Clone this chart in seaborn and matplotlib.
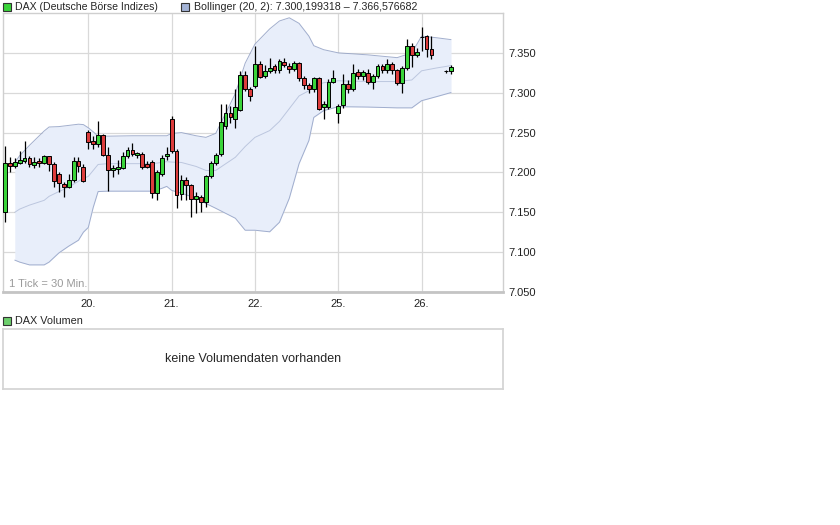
import numpy as np
import pandas as pd
import matplotlib
matplotlib.use("Agg")
import matplotlib.pyplot as plt
from matplotlib.patches import Rectangle
from matplotlib.ticker import FuncFormatter
import seaborn as sns

# 30-min slots, 17 per trading day (19., 20., 21., 22., 25., 26.)
slot = list(range(88)) + [90, 91]

opens = [7150, 7212, 7208, 7212, 7214, 7218, 7209, 7214, 7212, 7220, 7210, 7198, 7186, 7182, 7190, 7214, 7207,
         7251, 7239, 7236, 7247, 7222, 7203, 7204, 7206, 7221, 7228, 7222, 7223, 7211, 7213, 7174, 7198, 7220,
         7267, 7227, 7173, 7190, 7184, 7167, 7169, 7163, 7195, 7212, 7223, 7258, 7275, 7267, 7278, 7322, 7305,
         7308, 7336, 7321, 7327, 7333, 7328, 7339, 7334, 7330, 7337, 7319, 7310, 7305, 7318, 7282, 7282, 7314,
         7275, 7284, 7311, 7305, 7326, 7321, 7325, 7314, 7321, 7334, 7328, 7336, 7328, 7312, 7331, 7359, 7347,
         7370, 7371, 7355, 7327, 7327]
highs = [7233, 7219, 7218, 7227, 7239, 7220, 7219, 7218, 7222, 7221, 7213, 7200, 7188, 7198, 7219, 7219, 7211,
         7253, 7246, 7265, 7248, 7232, 7209, 7215, 7226, 7232, 7237, 7226, 7226, 7214, 7215, 7203, 7222, 7232,
         7271, 7229, 7197, 7194, 7186, 7175, 7172, 7197, 7214, 7224, 7286, 7286, 7283, 7305, 7327, 7327, 7307,
         7359, 7340, 7335, 7343, 7336, 7342, 7343, 7337, 7340, 7339, 7321, 7312, 7320, 7320, 7290, 7317, 7329,
         7286, 7324, 7316, 7336, 7330, 7329, 7330, 7323, 7336, 7336, 7342, 7338, 7330, 7334, 7367, 7362, 7356,
         7383, 7373, 7371, 7329, 7335]
lows = [7138, 7200, 7205, 7210, 7212, 7207, 7205, 7207, 7211, 7202, 7182, 7175, 7169, 7180, 7188, 7200, 7188,
        7229, 7230, 7232, 7220, 7177, 7194, 7198, 7204, 7218, 7221, 7218, 7204, 7205, 7168, 7166, 7196, 7215,
        7224, 7155, 7165, 7165, 7144, 7149, 7150, 7157, 7193, 7209, 7221, 7254, 7262, 7256, 7277, 7302, 7290,
        7306, 7318, 7318, 7325, 7325, 7325, 7332, 7325, 7327, 7315, 7305, 7300, 7301, 7278, 7267, 7280, 7312,
        7262, 7281, 7300, 7302, 7317, 7316, 7311, 7305, 7318, 7325, 7325, 7324, 7310, 7300, 7329, 7332, 7345,
        7352, 7345, 7342, 7325, 7323]
closes = [7212, 7208, 7213, 7215, 7218, 7210, 7213, 7212, 7220, 7211, 7189, 7187, 7182, 7191, 7214, 7208, 7189,
          7238, 7236, 7247, 7222, 7203, 7205, 7207, 7221, 7228, 7223, 7225, 7207, 7207, 7174, 7200, 7218, 7223,
          7227, 7172, 7190, 7184, 7167, 7170, 7163, 7195, 7212, 7222, 7263, 7274, 7270, 7282, 7322, 7305, 7296,
          7336, 7320, 7327, 7331, 7328, 7340, 7335, 7330, 7337, 7319, 7310, 7305, 7318, 7280, 7286, 7314, 7319,
          7283, 7311, 7305, 7325, 7321, 7326, 7314, 7321, 7334, 7328, 7336, 7328, 7312, 7331, 7359, 7347, 7351,
          7370, 7355, 7347, 7327, 7332]

# Bollinger (20, 2) at some slots
bb_slot = [2, 3, 5, 8, 9, 11, 13, 15, 16, 17, 18, 19, 21, 26, 30, 32, 33, 34, 36, 39, 41, 43, 47, 49, 51,
           54, 56, 58, 60, 62, 63, 65, 68, 74, 80, 83, 85, 88, 91]
bb_upper = [7212.5, 7221, 7234, 7252, 7257, 7257.5, 7259, 7260.5, 7260, 7256, 7251, 7245.5, 7245.5, 7246, 7246,
            7246, 7246, 7249, 7250, 7246, 7244, 7249, 7299, 7337, 7361, 7380, 7390, 7394, 7387, 7371, 7359,
            7354, 7350, 7347.5, 7344, 7350, 7371, 7369, 7366.6]
bb_lower = [7090, 7087.5, 7084, 7084, 7087.5, 7099, 7107.5, 7115, 7125, 7131, 7156, 7176, 7176.5, 7176.5, 7176.5,
            7180, 7182.5, 7177.5, 7174, 7167.5, 7161, 7155, 7142.5, 7127.5, 7127.5, 7125.5, 7137.5, 7167.5, 7211,
            7240, 7269, 7277.5, 7282.5, 7282, 7281, 7281, 7290, 7295, 7300.2]
bb_mid = [7150, 7154, 7159, 7165, 7170, 7176, 7181.5, 7189, 7192.5, 7195, 7202.5, 7210, 7211, 7211, 7211,
          7212.5, 7213.5, 7213, 7212.5, 7207.5, 7202.5, 7202.5, 7219, 7232.5, 7244, 7252.5, 7264, 7280, 7296,
          7302.5, 7309, 7312.5, 7315, 7314, 7314, 7316, 7327.5, 7331, 7334]

day_slot = [17, 34, 51, 68, 85]
day_label = ["20.", "21.", "22.", "25.", "26."]

GREEN = "#3ad43a"
RED = "#dc3c3c"
BAND_FILL = "#e8eefa"
BAND_LINE = "#98a6c8"
GRID = "#d9d9d9"

sns.set_theme(style="white")
plt.rcParams["font.family"] = ["Liberation Sans", "DejaVu Sans"]

df = pd.DataFrame({"slot": slot, "open": opens, "high": highs, "low": lows, "close": closes})
bb = pd.DataFrame({"slot": bb_slot, "upper": bb_upper, "lower": bb_lower, "mid": bb_mid})

fig = plt.figure(figsize=(8.4, 5.25), dpi=100)
ax = fig.add_axes([3 / 840, 1 - 292 / 525, 500 / 840, 279 / 525])

# bollinger band
ax.fill_between(bb["slot"], bb["lower"], bb["upper"], color=BAND_FILL, lw=0, zorder=1)
for col in ["upper", "lower", "mid"]:
    sns.lineplot(data=bb, x="slot", y=col, ax=ax, color=BAND_LINE, lw=0.7, zorder=2,
                 alpha=0.9 if col != "mid" else 0.55)

# candles
ax.vlines(df["slot"], df["low"], df["high"], color="black", lw=0.9, zorder=3)
body_lo = np.minimum(df["open"], df["close"])
body_h = (df["close"] - df["open"]).abs()
colors = np.where(df["close"] > df["open"], GREEN, np.where(df["close"] < df["open"], RED, "black"))
ax.bar(df["slot"], body_h, bottom=body_lo, width=0.78, color=colors,
       edgecolor="black", linewidth=0.7, zorder=4)

ax.set_xlim(-0.4, 101.6)
ax.set_ylim(7050, 7400)
ax.set_xticks(day_slot)
ax.set_xticklabels(day_label)
ax.set_yticks(np.arange(7050, 7351, 50))
ax.yaxis.set_major_formatter(FuncFormatter(lambda v, p: f"{v / 1000:.3f}"))
ax.yaxis.tick_right()
ax.tick_params(axis="both", length=0, labelsize=8, colors="#222222", pad=4)
ax.tick_params(axis="x", pad=5)
ax.set_xlabel("")
ax.set_ylabel("")
ax.grid(True, color=GRID, lw=0.9)
ax.set_axisbelow(True)
for s in ax.spines.values():
    s.set_color("#cfcfcf")
    s.set_linewidth(1)
ax.spines["bottom"].set_linewidth(2)
ax.spines["bottom"].set_color("#c4c4c4")
ax.text(0.012, 0.018, "1 Tick = 30 Min.", transform=ax.transAxes, fontsize=8, color="#9a9a9a")

# header legend
fig.patches.append(Rectangle((3 / 840, 1 - 11 / 525), 8 / 840, 8 / 525, transform=fig.transFigure,
                             facecolor=GREEN, edgecolor="#333333", lw=0.8))
fig.text(15 / 840, 1 - 7 / 525, "DAX (Deutsche Börse Indizes)", fontsize=7.6, va="center")
fig.patches.append(Rectangle((181 / 840, 1 - 11 / 525), 8 / 840, 8 / 525, transform=fig.transFigure,
                             facecolor="#a3b3d6", edgecolor="#333333", lw=0.8))
fig.text(194 / 840, 1 - 7 / 525, "Bollinger (20, 2): 7.300,199318 \u2013 7.366,576682", fontsize=7.7, va="center")

# volume panel
fig.patches.append(Rectangle((3 / 840, 1 - 325 / 525), 8 / 840, 8 / 525, transform=fig.transFigure,
                             facecolor="#6ccf6c", edgecolor="#333333", lw=0.8))
fig.text(15 / 840, 1 - 321 / 525, "DAX Volumen", fontsize=7.8, va="center")
vax = fig.add_axes([3 / 840, 1 - 389 / 525, 500 / 840, 60 / 525])
vax.set_xticks([])
vax.set_yticks([])
for s in vax.spines.values():
    s.set_color("#d4d4d4")
vax.text(0.5, 0.5, "keine Volumendaten vorhanden", ha="center", va="center", fontsize=9, transform=vax.transAxes)

fig.savefig("out.png", dpi=100)
